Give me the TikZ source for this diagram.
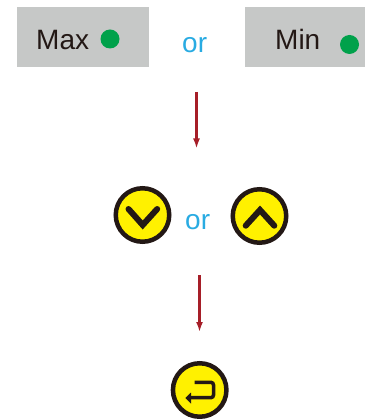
\documentclass[tikz,border=0pt]{standalone}
\usepackage{fontspec}
\setmainfont{Liberation Sans}
\usetikzlibrary{arrows.meta}
\definecolor{panelgray}{HTML}{C6C8C7}
\definecolor{ledgreen}{HTML}{00A14B}
\definecolor{orblue}{HTML}{29ABE2}
\definecolor{arrowred}{HTML}{A61E28}
\definecolor{keyyellow}{HTML}{FFF100}
\definecolor{keyblack}{HTML}{231815}
\tikzset{
  panel/.style={fill=panelgray,inner sep=0pt,minimum height=60pt},
  panellabel/.style={anchor=base west,inner sep=0pt,text=keyblack,font=\fontsize{28}{28}\selectfont},
  led/.style={circle,fill=ledgreen,inner sep=0pt,minimum size=19pt},
  ortext/.style={anchor=base west,inner sep=0pt,text=orblue,font=\fontsize{28}{28}\selectfont},
  keybutton/.style={circle,draw=keyblack,line width=4.5pt,fill=keyyellow,inner sep=0pt,minimum size=53.5pt},
  glyph/.style={draw=keyblack,line width=6pt,line cap=round,line join=miter},
  flow/.style={draw=arrowred,line width=3pt,-{Latex[length=10pt,width=7pt]}}
}
\begin{document}
\begin{tikzpicture}[x=1pt,y=-1pt]
  \useasboundingbox (0,0) rectangle (365,419);
  \node[panel,minimum width=132pt] (maxpanel) at (83,37) {};
  \node[panel,minimum width=120pt] (minpanel) at (305,37) {};
  \node[panellabel] (maxlabel) at (36,50) {Max};
  \node[panellabel] (minlabel) at (275,50) {Min};
  \node[led] (maxled) at (110,39) {};
  \node[led] (minled) at (349.5,44.5) {};
  \node[ortext] (ortop) at (182,52.5) {or};
  \node[ortext] (ormid) at (185,229.5) {or};
  % arrows
  \coordinate (flowastart) at (196.5,92);
  \coordinate (flowaend) at (196.5,148.5);
  \coordinate (flowbstart) at (199.5,275);
  \coordinate (flowbend) at (199.5,332);
  \draw[flow] (flowastart) -- (flowaend);
  \draw[flow] (flowbstart) -- (flowbend);
  % buttons
  \node[keybutton] (downkey) at (142.5,215) {};
  \node[keybutton] (upkey) at (259.5,216) {};
  \node[keybutton] (enterkey) at (199.7,390) {};
  \draw[glyph] (128.5,209) -- (142.7,225) -- (157.2,209);
  \draw[glyph] (245.7,225.7) -- (260,210) -- (274.3,225.7);
  \draw[draw=keyblack,line width=3.5pt] (194.5,382.3) -- (211,382.3)
    to[out=0,in=90] (213.5,385) -- (213.5,395)
    to[out=-90,in=0] (211,397.7) -- (190,397.7);
  \fill[keyblack] (185.3,398) -- (191,392.5) -- (191,403.5) -- cycle;
\end{tikzpicture}
\end{document}
